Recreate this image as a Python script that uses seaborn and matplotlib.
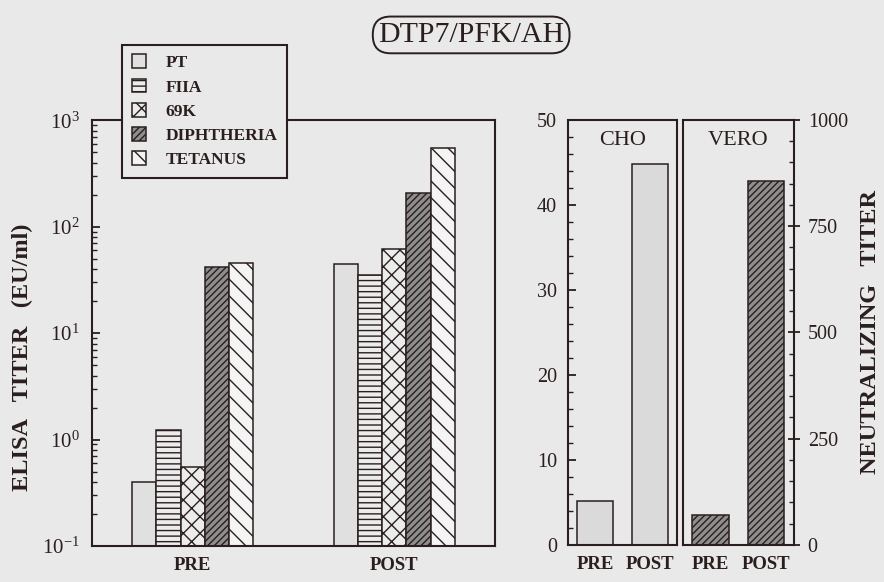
import numpy as np
import pandas as pd
import matplotlib
matplotlib.use("Agg")
import matplotlib.pyplot as plt
import seaborn as sns
from matplotlib.patches import Patch
from matplotlib.ticker import LogLocator, MultipleLocator, NullFormatter, LogFormatterMathtext

# data
antigens = ["PT", "FIIA", "69K", "DIPHTHERIA", "TETANUS"]
times = ["PRE", "POST"]
elisa_pre = [0.40, 1.22, 0.55, 42, 46]
elisa_post = [45, 35, 62, 206, 548]
cho_titer = [5.2, 44.8]
vero_titer = [70, 855]

hatches = ["", "---", "xx", "/////", "\\\\"]
faces = ["#e0e0e0", "#ececec", "#ececec", "#8e8e8e", "#f4f4f4"]
bg = "#e9e9e9"
ink = "#2a1e1e"

sns.set_style("white")
plt.rcParams["font.family"] = ["Liberation Serif", "DejaVu Serif"]
plt.rcParams["mathtext.fontset"] = "custom"
plt.rcParams["mathtext.rm"] = "Liberation Serif"
plt.rcParams["hatch.color"] = ink
plt.rcParams["hatch.linewidth"] = 1.0

df = pd.DataFrame({
    "time": np.repeat(times, len(antigens)),
    "antigen": antigens * 2,
    "titer": elisa_pre + elisa_post,
})

fig = plt.figure(figsize=(8.84, 5.82), dpi=100, facecolor=bg)
ax = fig.add_axes([0.104, 0.062, 0.456, 0.731], facecolor=bg)
ax_cho = fig.add_axes([0.6425, 0.064, 0.1235, 0.730], facecolor=bg)
ax_vero = fig.add_axes([0.7725, 0.064, 0.1255, 0.730], facecolor=bg)

# left: ELISA titers, log scale
sns.barplot(data=df, x="time", y="titer", hue="antigen", order=times, hue_order=antigens,
            palette=faces, saturation=1, width=0.6, gap=0, edgecolor=ink, linewidth=1.1,
            legend=False, ax=ax)
for cont, h in zip(ax.containers, hatches):
    for bar in cont:
        bar.set_hatch(h)
ax.set_yscale("log")
ax.set_ylim(0.1, 1000)
ax.set_xlim(-0.5, 1.5)
ax.yaxis.set_major_locator(LogLocator(base=10, numticks=10))
ax.yaxis.set_major_formatter(LogFormatterMathtext())
ax.yaxis.set_minor_locator(LogLocator(base=10, subs=np.arange(2, 10), numticks=20))
ax.yaxis.set_minor_formatter(NullFormatter())
ax.tick_params(axis="y", which="both", left=True, right=False)
ax.tick_params(axis="y", which="major", direction="in", length=6, width=1.3, labelsize=15, pad=9, colors=ink)
ax.tick_params(axis="y", which="minor", direction="in", length=3.5, width=1.0, colors=ink)
ax.tick_params(axis="x", length=0, labelsize=13.5, pad=8, colors=ink)
for lab in ax.get_xticklabels():
    lab.set_fontweight("bold")
ax.set_xlabel("")
ax.set_ylabel("")
for s in ax.spines.values():
    s.set_color(ink)
    s.set_linewidth(1.5)

handles = [Patch(facecolor=f, edgecolor=ink, hatch=h, linewidth=1.1) for f, h in zip(faces, hatches)]
leg = fig.legend(handles, antigens, loc="upper left", bbox_to_anchor=(0.138, 0.923),
                 borderaxespad=0, frameon=True, fancybox=False, facecolor=bg, edgecolor=ink,
                 framealpha=1, prop={"weight": "bold", "size": 12.5}, handlelength=0.85,
                 handleheight=0.85, handletextpad=1.1, labelspacing=0.42, borderpad=0.55)
leg.get_frame().set_linewidth(1.5)
for t in leg.get_texts():
    t.set_color(ink)

# middle: CHO neutralizing titers
sns.barplot(x=times, y=cho_titer, color="#dadada", saturation=1, width=0.66,
            edgecolor=ink, linewidth=1.1, ax=ax_cho)
ax_cho.set_ylim(0, 50)
ax_cho.set_xlim(-0.5, 1.5)
ax_cho.yaxis.set_major_locator(MultipleLocator(10))
ax_cho.yaxis.set_minor_locator(MultipleLocator(2))
ax_cho.tick_params(axis="y", which="both", left=True, right=False)
ax_cho.tick_params(axis="y", which="major", direction="in", length=6, width=1.3, labelsize=14.5, pad=8, colors=ink)
ax_cho.tick_params(axis="y", which="minor", direction="in", length=3.5, width=1.0, colors=ink)
ax_cho.text(0.5, 0.975, "CHO", transform=ax_cho.transAxes, ha="center", va="top", fontsize=16, color=ink)

# right: VERO neutralizing titers
sns.barplot(x=times, y=vero_titer, color="#8e8e8e", saturation=1, width=0.66,
            edgecolor=ink, linewidth=1.1, ax=ax_vero)
for bar in ax_vero.patches:
    bar.set_hatch("/////")
ax_vero.set_ylim(0, 1000)
ax_vero.set_xlim(-0.5, 1.5)
ax_vero.yaxis.tick_right()
ax_vero.yaxis.set_major_locator(MultipleLocator(250))
ax_vero.yaxis.set_minor_locator(MultipleLocator(50))
ax_vero.tick_params(axis="y", which="both", left=False, right=True)
ax_vero.tick_params(axis="y", which="major", direction="inout", length=8, width=1.3, labelsize=14.5, pad=6, colors=ink)
ax_vero.tick_params(axis="y", which="minor", direction="in", length=3.5, width=1.0, colors=ink)
ax_vero.text(0.5, 0.975, "VERO", transform=ax_vero.transAxes, ha="center", va="top", fontsize=16, color=ink)

for a in (ax_cho, ax_vero):
    a.tick_params(axis="x", length=0, labelsize=13.5, pad=8, colors=ink)
    for lab in a.get_xticklabels():
        lab.set_fontweight("bold")
    for s in a.spines.values():
        s.set_color(ink)
        s.set_linewidth(1.5)

fig.text(22 / 884, 1 - 357 / 582, "ELISA   TITER   (EU/ml)", rotation=90, ha="center", va="center",
         fontsize=17.5, fontweight="bold", color=ink)
fig.text(870 / 884, 1 - 332 / 582, "NEUTRALIZING   TITER", rotation=90, ha="center", va="center",
         fontsize=17.5, fontweight="bold", color=ink)
fig.text(0.533, 0.94, "DTP7/PFK/AH", ha="center", va="center", fontsize=21.5, color=ink,
         bbox=dict(boxstyle="round,pad=0.18,rounding_size=0.6", facecolor=bg, edgecolor=ink, linewidth=1.4))

fig.savefig("out.png", dpi=100, facecolor=bg)
